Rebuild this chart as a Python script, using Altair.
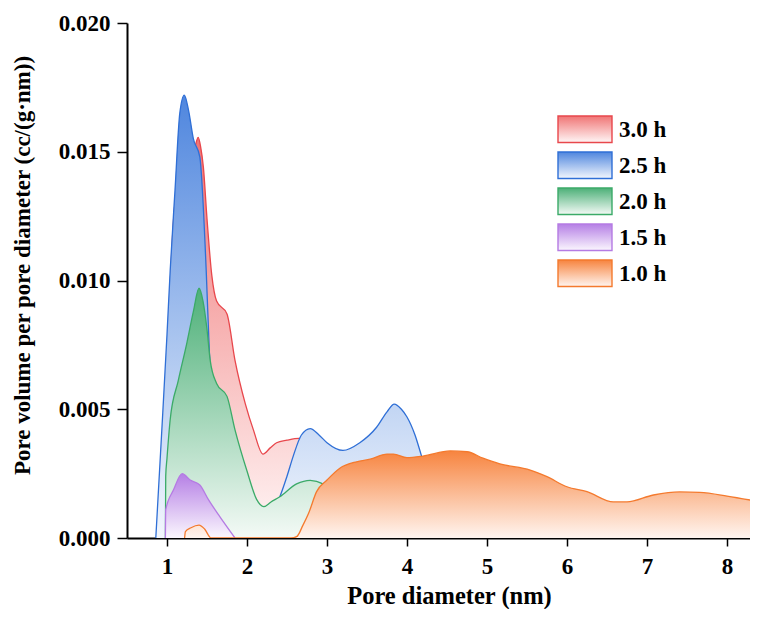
import altair as alt
import pandas as pd

FONT = "Liberation Serif"

# ---- data ----
labels = ["3.0 h", "2.5 h", "2.0 h", "1.5 h", "1.0 h"]

red_x = [0.97, 1.0, 1.05, 1.1, 1.2, 1.3, 1.35, 1.39, 1.42, 1.455, 1.5, 1.56, 1.62, 1.75, 1.85, 1.98, 2.08, 2.2, 2.29, 2.37, 2.5, 2.65, 2.8, 3.0, 3.2, 3.5, 3.8, 4.1, 4.3]
red_y = [0.0, 0.006, 0.0105, 0.013, 0.0142, 0.0148, 0.0152, 0.01556, 0.0152, 0.0144, 0.0124, 0.0102, 0.0092, 0.0087, 0.0069, 0.0052, 0.0042, 0.00326, 0.0035, 0.0037, 0.0038, 0.00387, 0.0037, 0.0032, 0.0029, 0.0026, 0.0024, 0.0018, 0.0]

blue_x = [0.86, 0.93, 1.0, 1.04, 1.1, 1.16, 1.216, 1.27, 1.33, 1.41, 1.49, 1.53, 1.6, 1.8, 2.0, 2.2, 2.35, 2.41, 2.5, 2.58, 2.68, 2.79, 2.9, 3.0, 3.2, 3.41, 3.62, 3.75, 3.84, 3.93, 4.0, 4.1, 4.18, 4.25, 4.4]
blue_y = [0.0, 0.0039, 0.0079, 0.0104, 0.0135, 0.0165, 0.0172, 0.0166, 0.0155, 0.0148, 0.0104, 0.0072, 0.0050, 0.0025, 0.0012, 0.0008, 0.0012, 0.0016, 0.0024, 0.0032, 0.0040, 0.00425, 0.0040, 0.0037, 0.0034, 0.0037, 0.0043, 0.0049, 0.0052, 0.0050, 0.0047, 0.0040, 0.0032, 0.0025, 0.0]

green_x = [0.98, 0.984, 1.0, 1.04, 1.14, 1.25, 1.33, 1.4, 1.45, 1.5, 1.54, 1.62, 1.75, 1.85, 2.0, 2.12, 2.21, 2.3, 2.41, 2.62, 2.79, 2.95, 3.1, 3.3]
green_y = [0.0, 0.0024, 0.0031, 0.0046, 0.0061, 0.0076, 0.0088, 0.0097, 0.0092, 0.0081, 0.0069, 0.0060, 0.0055, 0.0042, 0.0026, 0.0015, 0.00122, 0.0014, 0.0016, 0.0021, 0.00224, 0.0021, 0.0015, 0.0]

purple_x = [0.98, 0.984, 1.08, 1.19, 1.29, 1.41, 1.52, 1.66, 1.85]
purple_y = [0.0, 0.0011, 0.00186, 0.0025, 0.00225, 0.00206, 0.00148, 0.00083, 0.0]

orange_x = [1.22, 1.23, 1.3, 1.4, 1.47, 1.55, 2.55, 2.62, 2.7, 2.77, 2.87, 3.0, 3.16, 3.37, 3.54, 3.75, 3.83, 4.0, 4.2, 4.54, 4.75, 4.95, 5.16, 5.54, 5.75, 6.0, 6.25, 6.58, 6.75, 7.08, 7.41, 7.66, 8.0, 8.4]
orange_y = [0.0, 0.00025, 0.0004, 0.0005, 0.00035, 0.0, 0.0, 0.00005, 0.0005, 0.00096, 0.0018, 0.00225, 0.00271, 0.00296, 0.00306, 0.00326, 0.00326, 0.00312, 0.00318, 0.00338, 0.00335, 0.0031, 0.00288, 0.00264, 0.00238, 0.00199, 0.0018, 0.0014, 0.0014, 0.00167, 0.00179, 0.00177, 0.00163, 0.00141]

x_ticks = [1, 2, 3, 4, 5, 6, 7, 8]
y_ticks = [0.0, 0.005, 0.010, 0.015, 0.020]

# ---- styles ----
line_colors = ["#E8474C", "#2F6FD6", "#3BAA68", "#B57BE3", "#F47A2E"]
top_colors = ["#F07575", "#4F86DE", "#4DB078", "#B57FE5", "#F7843F"]
bottom_colors = ["#FFF6F6", "#F3F7FD", "#F4FAF6", "#FBF7FE", "#FFF5F0"]

series = [(red_x, red_y), (blue_x, blue_y), (green_x, green_y), (purple_x, purple_y), (orange_x, orange_y)]

W, H = 623, 515
xscale = alt.Scale(domain=[0.5, 0.5 + W / 80.0], nice=False, zero=False)
yscale = alt.Scale(domain=[0, 0.02], nice=False)

xaxis = alt.Axis(values=x_ticks, format="d", title="Pore diameter (nm)", grid=False,
                 titleX=322, titleY=65, titleAlign="center", titleBaseline="alphabetic",
                 titleFontSize=24.5, labelFontSize=23, tickSize=8, labelPadding=9)
yaxis = alt.Axis(values=y_ticks, format=".3f", title="Pore volume per pore diameter (cc/(g\u00b7nm))",
                 grid=False, titleX=-98, titleY=242, titleAngle=-90, titleAlign="center",
                 titleBaseline="alphabetic", titleFontSize=23, labelFontSize=23, tickSize=10,
                 labelPadding=7)


def grad(top, bottom):
    return alt.Gradient(gradient="linear",
                        stops=[alt.GradientStop(color=top, offset=0),
                               alt.GradientStop(color=bottom, offset=1)],
                        x1=1, x2=1, y1=0, y2=1)


layers = []
for (xs, ys), lc, tc, bc in zip(series, line_colors, top_colors, bottom_colors):
    df = pd.DataFrame({"d": xs, "v": ys})
    layers.append(
        alt.Chart(df).mark_area(
            color=grad(tc, bc), opacity=1, interpolate="monotone", clip=True,
            line=alt.OverlayMarkDef(color=lc, strokeWidth=1.3),
        ).encode(
            x=alt.X("d:Q", scale=xscale, axis=xaxis),
            y=alt.Y("v:Q", scale=yscale, axis=yaxis),
        )
    )

# ---- legend (gradient swatches) ----
LX0, LX1, LY0, LSTEP, LH = 431, 485, 93, 36, 26.5
for i, (lab, lc, tc, bc) in enumerate(zip(labels, line_colors, top_colors, bottom_colors)):
    ldf = pd.DataFrame({"label": [lab]})
    layers.append(
        alt.Chart(ldf).mark_rect(color=grad(tc, bc), stroke=lc, strokeWidth=1.4, opacity=1).encode(
            x=alt.value(LX0), x2=alt.value(LX1),
            y=alt.value(LY0 + i * LSTEP), y2=alt.value(LY0 + i * LSTEP + LH),
        )
    )
    layers.append(
        alt.Chart(ldf).mark_text(font=FONT, fontSize=23, fontWeight="bold", align="left",
                                 baseline="alphabetic", color="black").encode(
            x=alt.value(LX1 + 7), y=alt.value(LY0 + i * LSTEP + 21.3), text="label:N",
        )
    )

chart = alt.layer(*layers).properties(
    width=W, height=H,
    padding={"left": 119, "top": 15, "right": 0, "bottom": 71},
    autosize=alt.AutoSizeParams(type="none"),
    background="white",
).configure_view(stroke=None).configure_axis(
    labelFont=FONT, titleFont=FONT, labelFontWeight="bold", titleFontWeight="bold",
    labelColor="black", titleColor="black", domainColor="black", tickColor="black",
    domainWidth=2, tickWidth=1.5, zindex=1,
)

chart.save("out.html", embed_options={"renderer": "svg", "actions": False})
